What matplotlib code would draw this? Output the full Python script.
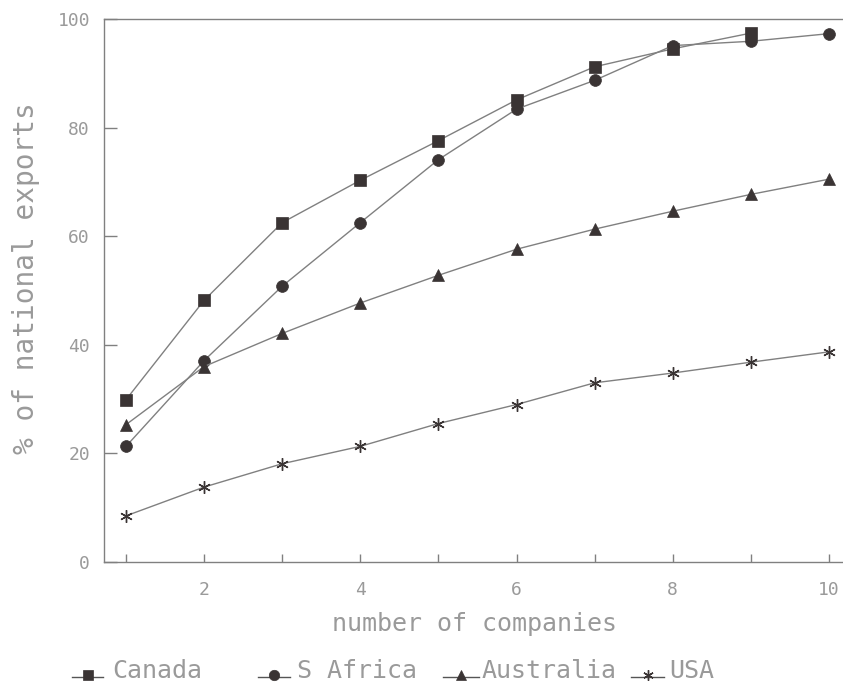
import matplotlib
matplotlib.use("Agg")
import matplotlib.pyplot as plt
from matplotlib.lines import Line2D

# share of national exports held by the top n companies
companies = [1, 2, 3, 4, 5, 6, 7, 8, 9, 10]
canada = [29.9, 48.2, 62.5, 70.3, 77.6, 85.1, 91.2, 94.5, 97.4]
s_africa = [21.3, 37.1, 50.8, 62.5, 74.1, 83.4, 88.7, 95.1, 95.9, 97.3]
australia = [25.3, 36.0, 42.1, 47.7, 52.8, 57.6, 61.3, 64.6, 67.7, 70.5]
usa = [8.5, 13.8, 18.1, 21.3, 25.5, 29.0, 33.0, 34.8, 36.8, 38.7]

names = ["Canada", "S Africa", "Australia", "USA"]
markers = ["s", "o", "^", (6, 2, 0)]

W, H = 843, 685
TXT = "#9a9a9a"
LINE = "#808080"
MARK = "#3a3434"
FONT = "DejaVu Sans Mono"

fig = plt.figure(figsize=(W / 100, H / 100), dpi=100)
ax = fig.add_axes([104 / W, 1 - 562 / H, (W - 104) / W, (562 - 19) / H])

series = [canada, s_africa, australia, usa]
sizes = [8, 8.5, 8, 9]
for vals, mk, ms in zip(series, markers, sizes):
    ax.plot(companies[:len(vals)], vals, color=LINE, lw=1.0, marker=mk,
            markersize=ms, markerfacecolor=MARK, markeredgecolor=MARK,
            markeredgewidth=1.0 if mk == (6, 2, 0) else 0.5, zorder=3)

ax.set_xlim(0.718, 10.18)
ax.set_ylim(0, 100)
ax.set_xticks(companies)
ax.set_xticklabels([str(c) if c % 2 == 0 else "" for c in companies])
ax.set_yticks([0, 20, 40, 60, 80, 100])

for side in ["left", "bottom", "top"]:
    ax.spines[side].set_color(LINE)
    ax.spines[side].set_linewidth(1.0)
ax.spines["right"].set_visible(False)

ax.tick_params(axis="x", direction="in", length=6, width=1.0, color=LINE,
               pad=14, labelsize=13, labelcolor=TXT)
ax.tick_params(axis="y", direction="in", length=9, width=1.0, color=LINE,
               pad=10, labelsize=13, labelcolor=TXT)
for lab in ax.get_xticklabels() + ax.get_yticklabels():
    lab.set_family(FONT)

fig.text(475 / W, 1 - 631 / H, "number of companies", ha="center",
         va="baseline", fontsize=18, family=FONT, color=TXT)
fig.text(26 / W, 1 - 278 / H, "% of national exports", ha="center",
         va="center", rotation=90, fontsize=20, family=FONT, color=TXT)

# legend row along the bottom: line stub with marker, then the name
leg_seg = [(72, 103), (258, 290), (443, 479), (631, 664)]
leg_txt = [112, 297, 482, 669]
base = 1 - 677 / H
for name, mk, (x0, x1), tx in zip(names, markers, leg_seg, leg_txt):
    fig.add_artist(Line2D([x0 / W, x1 / W], [base, base], color="#555555",
                          lw=1.0, transform=fig.transFigure))
    fig.add_artist(Line2D([(x0 + x1) / 2 / W], [base + 2 / H],
                          marker=mk, markersize=7.5, color=MARK,
                          markeredgewidth=1.0 if mk == (6, 2, 0) else 0.5,
                          transform=fig.transFigure))
    fig.text(tx / W, 1 - 678 / H, name, ha="left", va="baseline",
             fontsize=18, family=FONT, color=TXT)

fig.savefig("out.png", dpi=100)
